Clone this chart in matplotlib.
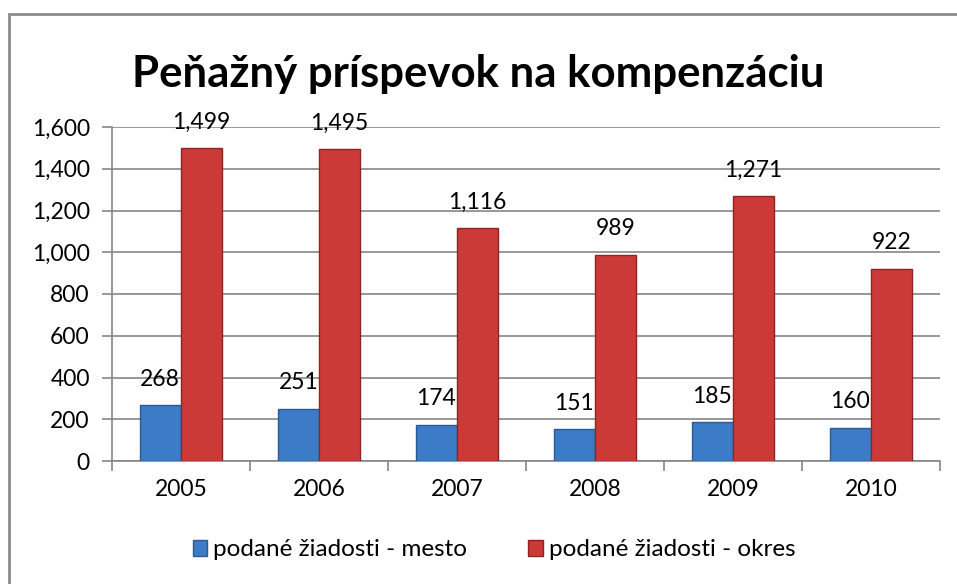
import numpy as np
import matplotlib.pyplot as plt
from matplotlib.patches import Rectangle

years = ['2005', '2006', '2007', '2008', '2009', '2010']
mesto = [268, 251, 174, 151, 185, 160]
okres = [1499, 1495, 1116, 989, 1271, 922]

plt.rcParams['font.family'] = ['Lato', 'DejaVu Sans']

fig = plt.figure(figsize=(9.57, 5.84), dpi=100)
fig.patch.set_facecolor('white')
# outer chart frame (cut off at right and bottom like the original)
fig.patches.append(Rectangle((9/957, -0.1), 1.2, 1.1 - 14/584, transform=fig.transFigure,
                             fill=False, edgecolor='#8c8c8c', linewidth=2))

ax = fig.add_axes([112/957, 1 - 461/584, 828/957, (461 - 127)/584])

x = np.arange(len(years))
w = 0.3
b1 = ax.bar(x - w/2, mesto, w, color='#3c7bc6', edgecolor='#2a5a94', linewidth=1,
            label='podané žiadosti - mesto', zorder=3)
b2 = ax.bar(x + w/2, okres, w, color='#cc3a38', edgecolor='#8e2322', linewidth=1,
            label='podané žiadosti - okres', zorder=3)

for bars, vals in ((b1, mesto), (b2, okres)):
    for r, v in zip(bars, vals):
        ax.annotate(f'{v:,}', (r.get_x() + r.get_width()/2, v), xytext=(0, 11),
                    textcoords='offset points', ha='center', va='bottom', fontsize=16.5)

ax.set_xlim(-0.5, len(years) - 0.5)
ax.set_ylim(0, 1600)
ax.set_yticks(range(0, 1601, 200))
ax.set_yticklabels([f'{t:,}' for t in range(0, 1601, 200)], fontsize=16.5)
ax.set_xticks(x)
ax.set_xticklabels(years, fontsize=16.5)
ax.set_xticks(np.arange(-0.5, len(years)), minor=True)
ax.tick_params(axis='x', which='major', length=0, pad=13)
ax.tick_params(axis='x', which='minor', length=7, color='#868686', width=1.2)
ax.tick_params(axis='y', length=7, color='#868686', width=1.2, pad=9)
ax.yaxis.grid(True, color='#868686', linewidth=1.2, zorder=0)
ax.set_axisbelow(True)
for s in ('top', 'right'):
    ax.spines[s].set_visible(False)
for s in ('left', 'bottom'):
    ax.spines[s].set_color('#868686')
    ax.spines[s].set_linewidth(1.2)

fig.text(0.5, 1 - 74/584, 'Peňažný príspevok na kompenzáciu', ha='center', va='center',
         fontsize=31.5, fontweight='bold')

fig.legend(handles=[b1, b2], loc='center', bbox_to_anchor=(494/957, 1 - 550/584), ncol=2,
           frameon=False, fontsize=17.5, handlelength=0.6, handleheight=0.6,
           handletextpad=0.25, columnspacing=2.5)

fig.savefig('out.png', dpi=100)
